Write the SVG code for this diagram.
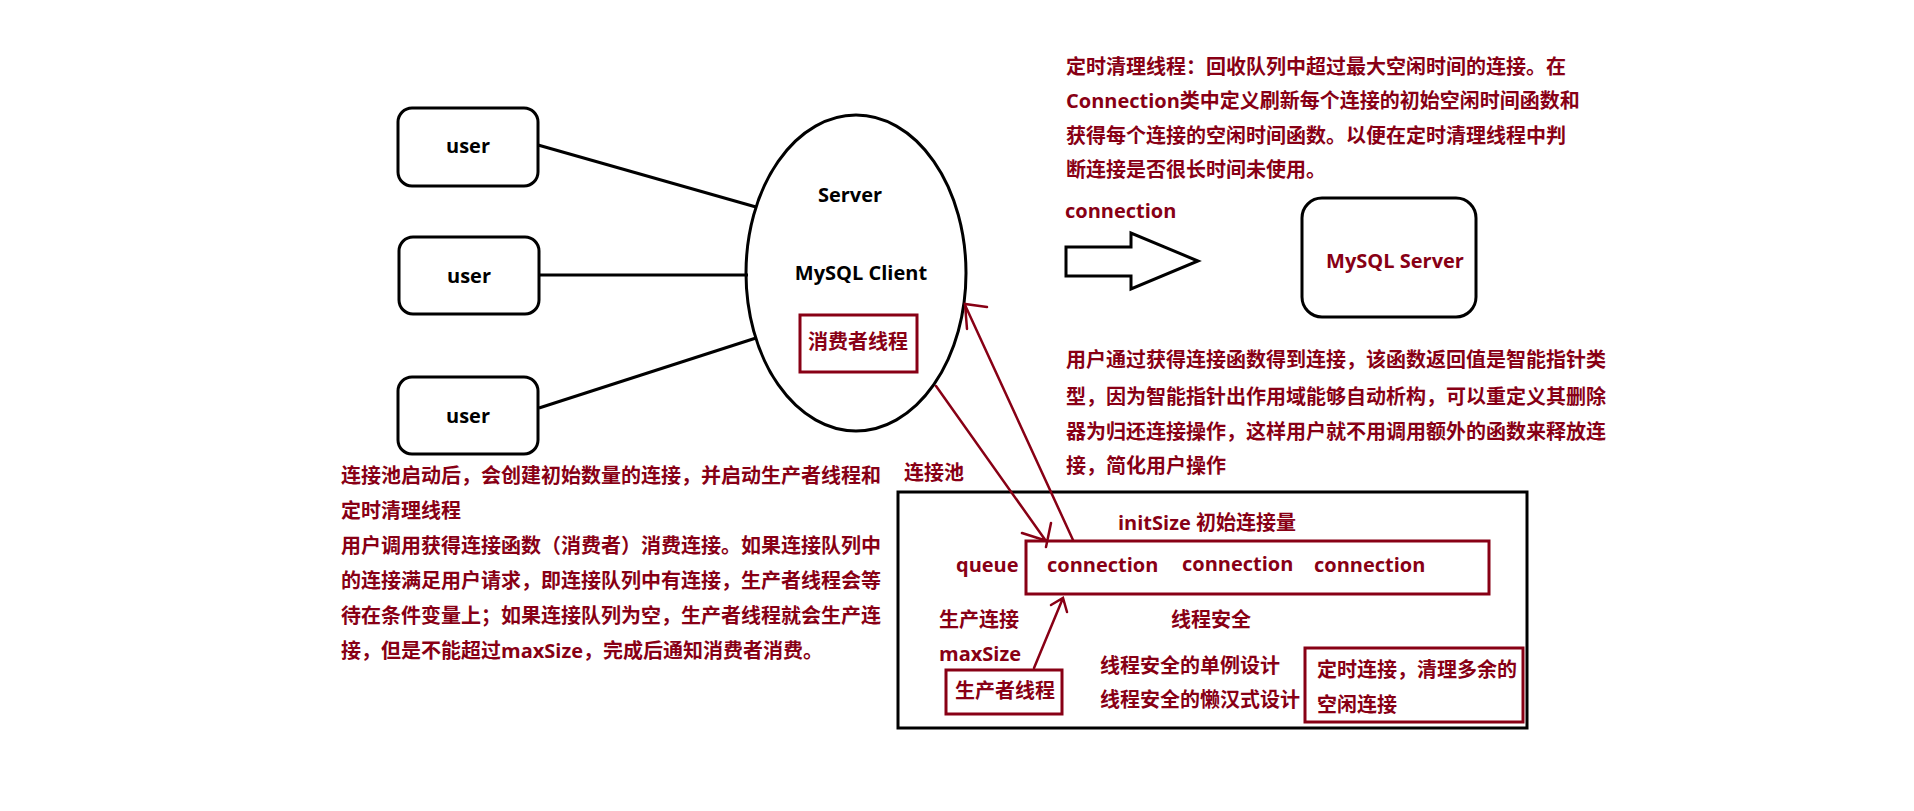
<svg xmlns="http://www.w3.org/2000/svg" width="1914" height="811" viewBox="0 0 1914 811">
<style>
text{font-family:"Open Sans","Noto Sans CJK SC",sans-serif;font-weight:700;font-size:20px}
.k{fill:#000}
.r{fill:#880015}
.mid{text-anchor:middle}
.bk{fill:none;stroke:#000;stroke-width:3}
.rb{fill:none;stroke:#880015;stroke-width:3}
.rl{fill:none;stroke:#880015;stroke-width:2.5;stroke-linecap:round}
.bl{fill:none;stroke:#000;stroke-width:3}
</style>
<rect width="1914" height="811" fill="#fff"/>
<g id="user1"><rect class="bk" x="398" y="108" width="140" height="78" rx="14"/><text class="k mid" x="468" y="153">user</text></g>
<g id="user2"><rect class="bk" x="399" y="237" width="140" height="77" rx="14"/><text class="k mid" x="469" y="283">user</text></g>
<g id="user3"><rect class="bk" x="398" y="377" width="140" height="77" rx="14"/><text class="k mid" x="468" y="423">user</text></g>
<g id="client">
<ellipse class="bk" cx="856" cy="273" rx="110" ry="158"/>
<text class="k mid" x="850" y="202">Server</text>
<text class="k mid" x="861" y="280">MySQL Client</text>
<rect class="rb" x="800" y="315" width="117" height="57"/>
<text class="r mid" x="858" y="349">消费者线程</text>
</g>
<g id="mysql-server"><rect class="bk" x="1302" y="198" width="174" height="119" rx="20"/><text class="r mid" x="1395" y="268">MySQL Server</text></g>
<g id="conn-arrow">
<text class="r" x="1065" y="218">connection</text>
<polygon class="bk" points="1066,247 1131,247 1131,233 1198,261 1131,289 1131,276 1066,276"/>
</g>
<g id="note-cleanup">
<text class="r" x="1066" y="74">定时清理线程：回收队列中超过最大空闲时间的连接。在</text>
<text class="r" x="1066" y="108">Connection类中定义刷新每个连接的初始空闲时间函数和</text>
<text class="r" x="1066" y="143">获得每个连接的空闲时间函数。以便在定时清理线程中判</text>
<text class="r" x="1066" y="177">断连接是否很长时间未使用。</text>
</g>
<g id="note-smartptr">
<text class="r" x="1066" y="367">用户通过获得连接函数得到连接，该函数返回值是智能指针类</text>
<text class="r" x="1066" y="404">型，因为智能指针出作用域能够自动析构，可以重定义其删除</text>
<text class="r" x="1066" y="439">器为归还连接操作，这样用户就不用调用额外的函数来释放连</text>
<text class="r" x="1066" y="473">接，简化用户操作</text>
</g>
<g id="note-pool">
<text class="r" x="341" y="483">连接池启动后，会创建初始数量的连接，并启动生产者线程和</text>
<text class="r" x="341" y="518">定时清理线程</text>
<text class="r" x="341" y="553">用户调用获得连接函数（消费者）消费连接。如果连接队列中</text>
<text class="r" x="341" y="588">的连接满足用户请求，即连接队列中有连接，生产者线程会等</text>
<text class="r" x="341" y="623">待在条件变量上；如果连接队列为空，生产者线程就会生产连</text>
<text class="r" x="341" y="658">接，但是不能超过maxSize，完成后通知消费者消费。</text>
</g>
<g id="pool">
<text class="r" x="904" y="480">连接池</text>
<rect class="bk" x="898" y="492" width="629" height="236"/>
<text class="r" x="1118" y="530">initSize 初始连接量</text>
<text class="r" x="956" y="572">queue</text>
<g id="queue">
<rect class="rb" x="1026" y="541" width="463" height="53"/>
<text class="r" x="1047" y="572">connection</text>
<text class="r" x="1182" y="571">connection</text>
<text class="r" x="1314" y="572">connection</text>
</g>
<text class="r" x="939" y="627">生产连接</text>
<text class="r" x="939" y="661">maxSize</text>
<text class="r" x="1171" y="627">线程安全</text>
<text class="r" x="1100" y="673">线程安全的单例设计</text>
<text class="r" x="1100" y="707">线程安全的懒汉式设计</text>
<g id="producer"><rect class="rb" x="946" y="670" width="116" height="44"/><text class="r" x="955" y="698">生产者线程</text></g>
<g id="cleaner"><rect class="rb" x="1305" y="648" width="218" height="74"/><text class="r" x="1317" y="677">定时连接，清理多余的</text><text class="r" x="1317" y="712">空闲连接</text></g>
</g>
<g id="connectors">
<line class="bl" x1="538" y1="145" x2="756" y2="207"/>
<line class="bl" x1="539" y1="275" x2="748" y2="275"/>
<line class="bl" x1="539" y1="408" x2="756" y2="338"/>
<path class="rl" d="M936,386 L1046,541 M1022,533 L1047,541 M1051,523 L1046,547"/>
<path class="rl" d="M1073,540 L965,305 M987,307 L965,304 L967,329"/>
<path class="rl" d="M1034,668 L1063,598 M1051,605 L1063,598 L1067,612"/>
</g>
</svg>
